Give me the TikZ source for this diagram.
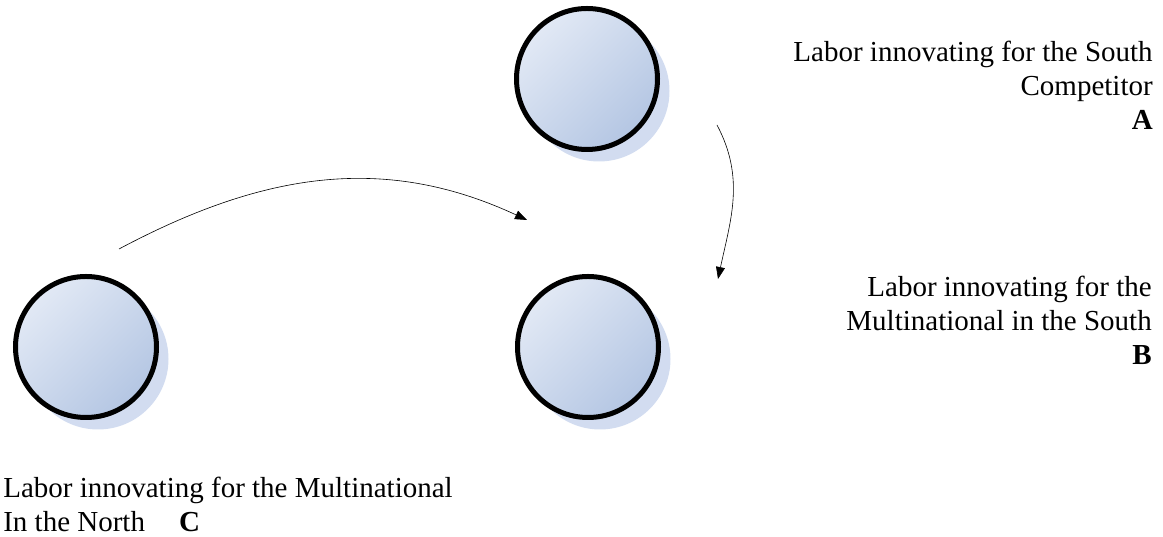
\documentclass[tikz,border=0pt]{standalone}
\usepackage{fontspec}
\setmainfont{Liberation Serif}
\usetikzlibrary{arrows.meta, positioning}

\begin{document}
\begin{tikzpicture}[x=1pt, y=1pt, semithick, >={Triangle[length=12pt,width=9pt]},
    labor/.style={circle, draw=black, line width=5pt, minimum size=141pt, inner sep=0pt,
        top color={rgb,255:red,226;green,233;blue,245}, bottom color={rgb,255:red,180;green,198;blue,227},
        shading angle=45},
    shade/.style={circle, fill={rgb,255:red,210;green,220;blue,240}, minimum size=141pt, inner sep=0pt},
    caption/.style={inner sep=0pt, font=\fontsize{29}{34}\selectfont}]
    \useasboundingbox (0,0) rectangle (1163,537);
    % shadows first
    \node[shade] at (599,446) {};
    \node[shade] at (600,178) {};
    \node[shade] at (98,178) {};
    \node[labor] (A) at (587,458) {};
    \node[labor] (B) at (588,190) {};
    \node[labor] (C) at (86,190) {};
    \coordinate (c1) at (119,288);
    \coordinate (c2) at (527,317);
    \coordinate (a1) at (717,412);
    \coordinate (b1) at (718,258);
    \draw[->, line width=0.6pt] (c1) to[out=28, in=155] (c2);
    \draw[->, line width=0.6pt] (a1) to[out=-62, in=78] (b1);
    \node[caption, anchor=base east, align=right] (labA) at (1153,407)
        {Labor innovating for the South\\Competitor\\\textbf{A}};
    \node[caption, anchor=base east, align=right] (labB) at (1152,172)
        {Labor innovating for the\\Multinational in the South\\\textbf{B}};
    \node[caption, anchor=base west, align=left] (labC) at (3,5)
        {Labor innovating for the Multinational\\In the North\hspace{34pt}\textbf{C}};
\end{tikzpicture}
\end{document}
